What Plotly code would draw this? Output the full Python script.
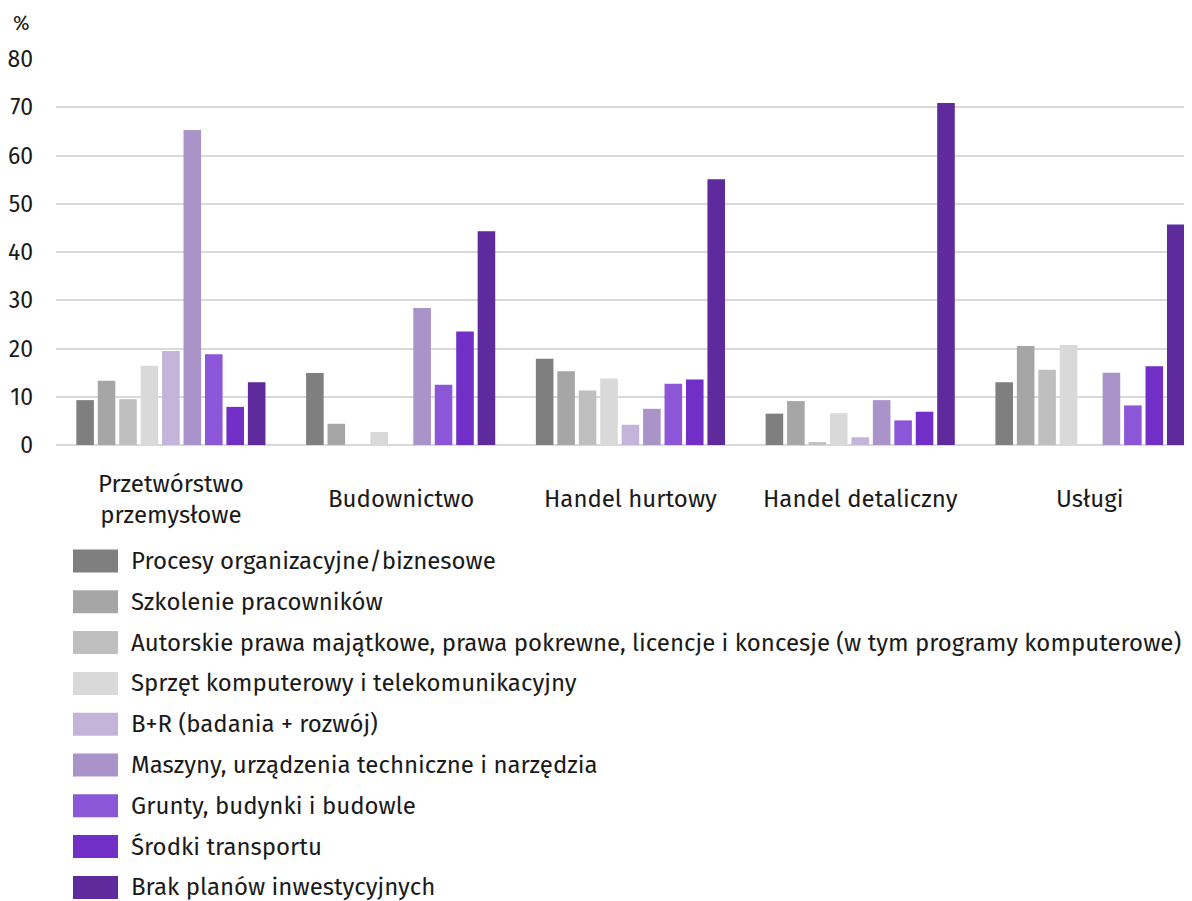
import plotly.graph_objects as go

categories = ["Przetwórstwo<br>przemysłowe", "Budownictwo", "Handel hurtowy",
              "Handel detaliczny", "Usługi"]

series_names = [
    "Procesy organizacyjne/biznesowe",
    "Szkolenie pracowników",
    "Autorskie prawa majątkowe, prawa pokrewne, licencje i koncesje (w tym programy komputerowe)",
    "Sprzęt komputerowy i telekomunikacyjny",
    "B+R (badania + rozwój)",
    "Maszyny, urządzenia techniczne i narzędzia",
    "Grunty, budynki i budowle",
    "Środki transportu",
    "Brak planów inwestycyjnych",
]

procesy = [9.3, 14.9, 17.9, 6.5, 13.0]
szkolenie = [13.3, 4.4, 15.3, 9.1, 20.5]
autorskie = [9.5, None, 11.3, 0.6, 15.6]
sprzet = [16.4, 2.7, 13.8, 6.6, 20.7]
br = [19.5, None, 4.2, 1.6, None]
maszyny = [65.3, 28.4, 7.5, 9.3, 15.0]
grunty = [18.8, 12.5, 12.7, 5.1, 8.2]
srodki = [7.9, 23.5, 13.6, 6.9, 16.3]
brak = [13.0, 44.3, 55.1, 70.9, 45.7]

series_values = [procesy, szkolenie, autorskie, sprzet, br, maszyny, grunty, srodki, brak]

colors = ["#7f7f7f", "#a6a6a6", "#bfbfbf", "#d9d9d9", "#c4b4da",
          "#a993c9", "#8b57d8", "#722fc8", "#5f2a9b"]

y_ticks = [0, 10, 20, 30, 40, 50, 60, 70, 80]

FONT = "Fira Sans, Noto Sans, sans-serif"
TXT = "#1a1a1a"

fig = go.Figure()
for name, vals, col in zip(series_names, series_values, colors):
    fig.add_trace(go.Bar(
        x=categories, y=vals, name=name,
        marker=dict(color=col, line=dict(width=0)),
        showlegend=False,
    ))

OFF = 8  # page body margin
W, H = 1192 - OFF, 901 - OFF
plot_top, plot_bottom = 59 - OFF, 445 - OFF
plot_left = 56 - OFF
ph = plot_bottom - plot_top
pw = W - plot_left


def px(x):
    return (x - OFF - plot_left) / pw


def py(y):
    return (plot_bottom - (y - OFF)) / ph


shapes = []
annotations = []

# category labels, vertically centred like the reference
for cat in categories:
    annotations.append(dict(
        text=cat, xref="x", yref="paper", x=cat, y=py(499),
        xanchor="center", yanchor="middle", showarrow=False,
        font=dict(family=FONT, size=24, color=TXT),
    ))

# custom legend (swatches + labels)
for i, (name, col) in enumerate(zip(series_names, colors)):
    cy = 561 + 40.8 * i
    shapes.append(dict(
        type="rect", xref="paper", yref="paper", layer="above",
        x0=px(73), x1=px(118), y0=py(cy + 11.5), y1=py(cy - 11.5),
        fillcolor=col, line=dict(width=0),
    ))
    annotations.append(dict(
        text=name, xref="paper", yref="paper",
        x=px(129), y=py(cy),
        xanchor="left", yanchor="middle", showarrow=False,
        font=dict(family=FONT, size=24, color=TXT),
    ))

annotations.append(dict(
    text="%", xref="paper", yref="paper",
    x=px(11), y=py(23),
    xanchor="left", yanchor="middle", showarrow=False,
    font=dict(family=FONT, size=20, color=TXT),
))

fig.update_layout(
    width=W, height=H,
    margin=dict(l=plot_left, r=0, t=plot_top, b=H - plot_bottom, pad=0),
    paper_bgcolor="white", plot_bgcolor="white",
    barmode="group", bargap=0.16, bargroupgap=0.18,
    font=dict(family=FONT, size=24, color=TXT),
    shapes=shapes, annotations=annotations,
    xaxis=dict(
        range=[-0.5, 4.444], showgrid=False, showline=False, zeroline=False,
        ticks="", showticklabels=False,
    ),
    yaxis=dict(
        range=[0, 80], tickvals=y_ticks, showgrid=True,
        gridcolor="#d9d9d9", gridwidth=2, zeroline=True, zerolinecolor="#d9d9d9",
        zerolinewidth=2, showline=False, ticks="", tickfont=dict(size=23, color=TXT),
        ticklabelstandoff=22,
    ),
)

fig.write_html("out.html")
